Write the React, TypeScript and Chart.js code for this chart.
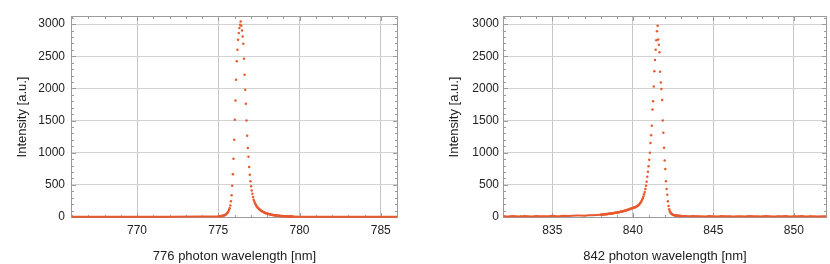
import React, { useEffect, useRef } from 'react';
import { Chart, registerables } from 'chart.js';

Chart.register(...registerables);

// ---------- 776 nm photon spectrum ----------
const peak776Start = 775.02; // nm, sampling grid start
const peak776Step = 0.04; // nm, sampling grid step
const peak776Intensity = [
  9, 10, 11, 12, 14, 16, 18, 21, 24, 28,
  33, 39, 47, 57, 70, 86, 108, 138, 180, 245,
  340, 487, 663, 907, 1202, 1513, 1813, 2135, 2420, 2601,
  2756, 2860, 2938, 2990,
  3040,
  2974, 2901, 2808, 2694, 2461, 2212, 1979, 1762, 1502, 1264,
  1072, 938, 777, 658, 554, 477, 414, 363, 311, 269,
  240, 214, 193, 176, 161, 148, 137, 127, 118, 110,
  102, 95, 89, 83, 78, 73, 68, 64, 60, 56,
  53, 50, 47, 44, 42, 39, 37, 35, 33, 31,
  29, 28, 26, 25, 23, 22, 21, 20, 19, 18,
  17, 16, 15, 14, 13, 13, 12, 11, 11, 10,
  10, 9, 9, 8, 8, 8, 7, 7, 7, 6,
];
const base776LowX = [766, 768, 770, 772, 774, 775.02];
const base776LowY = [3, 3, 4, 4, 6, 9];
const base776HighX = [779.58, 780, 781, 782, 784, 786];
const base776HighY = [6, 5, 4, 4, 3, 3];

// ---------- 842 nm photon spectrum ----------
const peak842Start = 838.02;
const peak842Step = 0.04;
const peak842Intensity = [
  36, 38, 35, 40, 39, 42, 40, 44, 45, 43,
  48, 47, 50, 49, 53, 52, 56, 55, 59, 58,
  62, 61, 65, 66, 68, 70, 71, 74, 75, 78,
  80, 82, 85, 86, 90, 92, 95, 97, 101, 103,
  107, 110, 114, 117, 121, 125, 128, 132, 134, 138,
  142,
  145, 148, 152, 157, 162, 168, 175, 183, 192, 203,
  216, 231, 248, 268, 292, 320, 352, 390, 435, 487,
  550, 625, 705, 790, 890, 1000, 1150, 1270, 1420, 1670,
  1800, 2030, 2265, 2440, 2600, 2750, 2890, 2974,
  2760, 2680, 2560, 2260, 2090, 1990, 1820, 1500, 1310, 1075,
  880, 745, 555, 435, 345, 245, 170, 120, 90, 70,
  56, 46, 39, 34, 30, 27, 25, 23, 22, 20,
  19, 18, 18, 17, 16, 16, 15,
];
const base842LowStart = 832;
const base842LowStep = 0.25;
const base842LowY = [
  12, 8, 15, 10, 6, 14, 11, 9, 16, 12, 10, 13, 18, 12, 15, 20, 16, 19, 22, 24, 21, 27, 28, 31, 35,
];
const base842HighStart = 843;
const base842HighStep = 0.25;
const base842HighY = [
  15, 14, 12, 16, 10, 13, 9, 15, 11, 8, 14, 10, 12, 7, 13, 11, 9, 15, 10,
  12, 8, 14, 11, 9, 13, 10, 16, 8, 12, 10, 14, 9, 11, 13, 8, 12, 10,
];

// axes
const yMin = 0;
const yMax = 3110;
const yTicks = [0, 500, 1000, 1500, 2000, 2500, 3000];
const x776Ticks = [770, 775, 780, 785];
const x842Ticks = [835, 840, 845, 850];
const yMajorStep = 500;
const yMinorStep = 100;
const xMajorStep = 5;
const xMinorStep = 1;
const x776Range = [766, 786];
const x842Range = [832, 852];
const yTitle = 'Intensity [a.u.]';
const x776Title = '776 photon wavelength [nm]';
const x842Title = '842 photon wavelength [nm]';

const DOT = '#E85A30';
const FRAME = '#9b9b9b';
const GRID_X = '#c6c6c6';
const GRID_Y = '#d2d2d2';
const TEXT = '#222222';
const FONT = "'Liberation Sans', Arial, Helvetica, sans-serif";

const grid = (start: number, step: number, ys: number[]) =>
  ys.map((y, i) => ({ x: +(start + i * step).toFixed(4), y }));
const pairs = (xs: number[], ys: number[]) => xs.map((x, i) => ({ x, y: ys[i] }));

const isMultiple = (v: number, step: number) =>
  Math.abs(v / step - Math.round(v / step)) < 1e-6;

const framePlugin = {
  id: 'mmaFrame',
  beforeDatasetsDraw(chart: any) {
    const { ctx, chartArea } = chart;
    const { left, right, top, bottom } = chartArea;
    const xs = chart.scales.x;
    const ys = chart.scales.y;
    ctx.save();
    ctx.strokeStyle = FRAME;
    ctx.lineWidth = 1;
    ctx.beginPath();
    for (let v = Math.ceil(xs.min / xMinorStep) * xMinorStep; v <= xs.max + 1e-9; v += xMinorStep) {
      const px = Math.round(xs.getPixelForValue(v)) + 0.5;
      const len = isMultiple(v, xMajorStep) ? 4 : 2;
      ctx.moveTo(px, top);
      ctx.lineTo(px, top + len);
      ctx.moveTo(px, bottom);
      ctx.lineTo(px, bottom - len);
    }
    for (let v = 0; v <= ys.max + 1e-9; v += yMinorStep) {
      const py = Math.round(ys.getPixelForValue(v)) + 0.5;
      const len = isMultiple(v, yMajorStep) ? 4 : 2;
      ctx.moveTo(left, py);
      ctx.lineTo(left + len, py);
      ctx.moveTo(right, py);
      ctx.lineTo(right - len, py);
    }
    ctx.stroke();
    ctx.strokeRect(Math.round(left) - 0.5, Math.round(top) - 0.5, Math.round(right - left) + 1, Math.round(bottom - top) + 1);
    ctx.restore();
  },
};

function makeConfig(p: any) {
  const font = { family: FONT, size: 12 };
  const titleFont = { family: FONT, size: 13 };
  return {
    type: 'scatter',
    data: {
      datasets: [
        { data: p.baseLow, showLine: true, borderColor: DOT, borderWidth: 2, pointRadius: 0, clip: false },
        { data: p.baseHigh, showLine: true, borderColor: DOT, borderWidth: 2, pointRadius: 0, clip: false },
        {
          data: p.peak,
          showLine: false,
          pointRadius: 1.25,
          pointBackgroundColor: DOT,
          pointBorderWidth: 0,
          borderColor: DOT,
          clip: false,
        },
      ],
    },
    options: {
      animation: false,
      responsive: false,
      devicePixelRatio: 1,
      events: [],
      layout: { padding: { left: 0, top: 17, right: p.padRight, bottom: 0 } },
      plugins: { legend: { display: false }, tooltip: { enabled: false } },
      scales: {
        x: {
          type: 'linear',
          min: p.xRange[0],
          max: p.xRange[1],
          afterBuildTicks: (s: any) => {
            s.ticks = p.xTicks.map((v: number) => ({ value: v }));
          },
          afterFit: (s: any) => {
            s.height = 47;
          },
          ticks: {
            autoSkip: false,
            maxRotation: 0,
            padding: 6,
            color: TEXT,
            font,
            callback: (v: any) => String(v),
          },
          grid: { color: GRID_X, drawTicks: false, lineWidth: 1 },
          border: { display: false },
          title: { display: true, text: p.xTitle, color: TEXT, font: titleFont, padding: { top: 0, bottom: 0 } },
        },
        y: {
          type: 'linear',
          min: yMin,
          max: yMax,
          afterBuildTicks: (s: any) => {
            s.ticks = yTicks.map((v) => ({ value: v }));
          },
          afterFit: (s: any) => {
            s.width = p.yWidth;
          },
          ticks: {
            autoSkip: false,
            padding: p.yTickPad,
            color: TEXT,
            font,
            callback: (v: any) => String(v),
          },
          grid: { color: GRID_Y, drawTicks: false, lineWidth: 1 },
          border: { display: false },
          title: { display: true, text: yTitle, color: TEXT, font: titleFont, padding: { top: p.yTitlePad, bottom: 0 } },
        },
      },
    },
    plugins: [framePlugin],
  };
}

function SpectrumChart(props: { cfg: any; left: number }) {
  const ref = useRef<HTMLCanvasElement | null>(null);
  useEffect(() => {
    if (!ref.current) return;
    const chart = new Chart(ref.current, makeConfig(props.cfg) as any);
    return () => chart.destroy();
  }, []);
  return (
    <canvas
      ref={ref}
      width={415}
      height={264}
      style={{ position: 'absolute', left: props.left, top: 0, width: 415, height: 264, display: 'block' }}
    />
  );
}

export default function App() {
  const left = {
    peak: grid(peak776Start, peak776Step, peak776Intensity),
    baseLow: pairs(base776LowX, base776LowY),
    baseHigh: pairs(base776HighX, base776HighY),
    xRange: x776Range,
    xTicks: x776Ticks,
    xTitle: x776Title,
    yWidth: 72,
    padRight: 18,
    yTickPad: 7,
    yTitlePad: 15,
  };
  const right = {
    peak: grid(peak842Start, peak842Step, peak842Intensity),
    baseLow: grid(base842LowStart, base842LowStep, base842LowY),
    baseHigh: grid(base842HighStart, base842HighStep, base842HighY),
    xRange: x842Range,
    xTicks: x842Ticks,
    xTitle: x842Title,
    yWidth: 89,
    padRight: 2,
    yTickPad: 5,
    yTitlePad: 31.5,
  };
  return (
    <div style={{ position: 'fixed', left: 0, top: 0, width: 830, height: 264, background: '#fff' }}>
      <SpectrumChart cfg={left} left={0} />
      <SpectrumChart cfg={right} left={415} />
    </div>
  );
}
